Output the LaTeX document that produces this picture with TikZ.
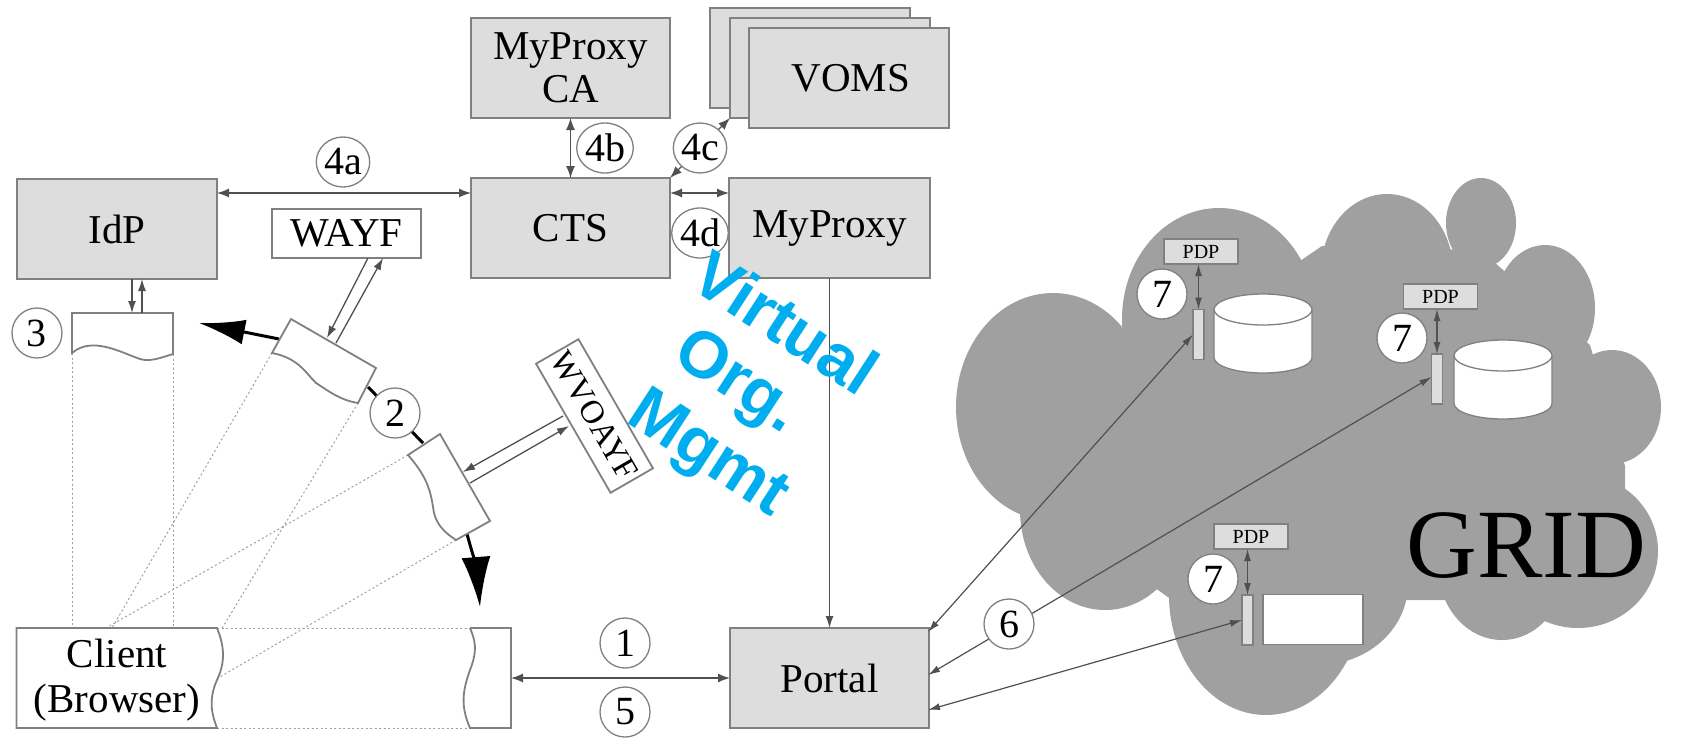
\documentclass[tikz,border=0pt]{standalone}
\usepackage{fontspec}
\setmainfont{Liberation Serif}
\newfontfamily\virtfont{Liberation Sans}
\usetikzlibrary{arrows.meta,shapes.geometric,calc}
\definecolor{boxfill}{HTML}{DDDDDD}
\definecolor{edgecol}{HTML}{808080}
\definecolor{linecol}{HTML}{505050}
\definecolor{gridfill}{HTML}{A0A0A0}
\definecolor{virt}{HTML}{00AEEF}
\tikzset{
  x=1pt,y=-1pt,
  box/.style={draw=edgecol,line width=1.8pt,fill=boxfill,rectangle,inner sep=0pt,outer sep=0pt,align=center,font=\fontsize{41}{46}\selectfont},
  whitebox/.style={box,fill=white},
  num/.style={draw=edgecol,line width=1.3pt,fill=white,ellipse,inner sep=0pt,outer sep=0pt,minimum width=50pt,minimum height=50pt,font=\fontsize{40}{44}\selectfont},
  page/.style={draw=edgecol,line width=1.8pt,fill=white},
  pdpbox/.style={box,minimum width=74pt,minimum height=25pt,font=\fontsize{20}{22}\selectfont},
  barbox/.style={box,minimum width=11pt,minimum height=50pt,line width=1.3pt},
  both/.style={draw=linecol,line width=1.3pt,{Latex[length=12pt,width=9pt]}-{Latex[length=12pt,width=9pt]}},
  toend/.style={draw=linecol,line width=1.3pt,-{Latex[length=12pt,width=8pt]}},
  thin link/.style={draw=linecol,line width=1.2pt,{Latex[length=12pt,width=7pt]}-{Latex[length=12pt,width=7pt]}},
  bigleft/.style={line width=3pt,black,-{Latex[length=46pt,width=25pt]}},
  bigdown/.style={line width=3pt,black,-{Latex[length=50pt,width=29pt]}},
  view/.style={draw=edgecol!75,line width=1pt,dash pattern=on 2pt off 2.5pt},
  cyl/.style={draw=edgecol,line width=1.3pt,fill=white},
  virttext/.style={text=virt,font=\virtfont\bfseries\fontsize{66}{68}\selectfont,rotate=-33,inner sep=0pt}
}
\begin{document}
\begin{tikzpicture}
\useasboundingbox (0,0) rectangle (1681,737);
\fill[white] (0,0) rectangle (1681,737);

% cloud
\begin{scope}[gridfill]
\fill (1053,407) ellipse [x radius=97pt,y radius=114pt];
\fill (1219,319) ellipse [x radius=97pt,y radius=111pt];
\fill (1387,271) ellipse [x radius=66pt,y radius=77pt];
\fill (1481,223) ellipse [x radius=35pt,y radius=45pt];
\fill (1545,308) ellipse [x radius=50pt,y radius=63pt];
\fill (1612,407) ellipse [x radius=49pt,y radius=57pt];
\fill (1578,551) ellipse [x radius=80pt,y radius=77pt];
\fill (1502,566) ellipse [x radius=64pt,y radius=74pt];
\fill (1266,595) ellipse [x radius=97pt,y radius=120pt];
\fill (1105,510) ellipse [x radius=85pt,y radius=100pt];
\fill (1318,584) ellipse [x radius=90pt,y radius=81pt];
\fill (1120,400) -- (1300,261) -- (1322,246) -- (1480,250) -- (1590,345) -- (1625,466) -- (1625,492) -- (1560,600) -- (1400,600) -- (1200,620) -- (1060,520) -- cycle;
\end{scope}

% boxes
\node[box,minimum width=199pt,minimum height=100pt] (ca) at (570.5,68) {\raisebox{-3pt}{MyProxy}\\CA};
\node[box,minimum width=200pt,minimum height=100pt] (voms3) at (810,58) {};
\node[box,minimum width=200pt,minimum height=100pt] (voms2) at (830,68) {};
\node[box,minimum width=200pt,minimum height=100pt] (voms) at (849,78) {\hspace*{4pt}VOMS};
\node[box,minimum width=200pt,minimum height=100pt] (idp) at (117,229) {IdP};
\node[whitebox,minimum width=149pt,minimum height=49pt] (wayf) at (346.5,233.5) {WAYF};
\node[box,minimum width=199pt,minimum height=100pt] (cts) at (570.5,228) {CTS};
\node[box,minimum width=201pt,minimum height=100pt] (myproxy) at (829.5,228) {MyProxy};
\node[box,minimum width=199pt,minimum height=100pt] (portal) at (829.5,678) {Portal};
\node[whitebox,rotate=-60,minimum width=149pt,minimum height=49pt,font=\fontsize{33}{36}\selectfont] (wvoayf) at (594.5,416) {WVOAYF};

% view lines
\coordinate (p3l) at (72,353);
\coordinate (p3r) at (173,354);
\coordinate (p1l) at (272,353);
\coordinate (p1r) at (358,403);
\coordinate (p2l) at (408,455);
\coordinate (p2r) at (456,540);
\coordinate (cl1) at (72,628);
\coordinate (cl2) at (173,628);
\coordinate (cl3) at (112,628);
\coordinate (cl4) at (106,628);
\coordinate (cl5) at (221,630);
\coordinate (cl6) at (218,678);
\coordinate (rt) at (470,628);
\coordinate (rb) at (470,728);
\coordinate (ct) at (217,628);
\coordinate (cb) at (217,728);
\draw[view] (p3l) -- (cl1);
\draw[view] (p3r) -- (cl2);
\draw[view] (p1l) -- (cl3);
\draw[view] (p1r) -- (cl5);
\draw[view] (p2l) -- (cl4);
\draw[view] (p2r) -- (cl6);
\draw[view] (ct) -- (rt);
\draw[view] (cb) -- (rb);

% big flow arrows
\coordinate (flowa) at (279,339);
\coordinate (flowatip) at (199,323);
\coordinate (flowb) at (467,534);
\coordinate (flowbtip) at (480,607);
\coordinate (flowc) at (368,387);
\coordinate (flowd) at (423,443);
\draw[bigleft] (flowa) -- (flowatip);
\draw[line width=3pt,black] (flowc) -- (flowd);
\draw[bigdown] (flowb) .. controls (472,552) and (477,570) .. (flowbtip);

% browser pages
\draw[page] (72,313) -- (173,313) -- (p3r) .. controls (160,358) and (150,362) .. (140,359) .. controls (120,352) and (92,336) .. (p3l) -- cycle;
\draw[page] (291,319) -- (376,368) -- (p1r) .. controls (340,400) and (330,392) .. (316,383) .. controls (305,372) and (298,358) .. (p1l) -- cycle;
\draw[page] (440,434) -- (490,521) -- (p2r) .. controls (445,533) and (437,525) .. (434,513) .. controls (431,495) and (430,480) .. (p2l) -- cycle;
\draw[page] (16.5,628) -- (ct) .. controls (226,650) and (224,665) .. (217,680) .. controls (208,700) and (212,715) .. (cb) -- (16.5,728) -- cycle;
\draw[page] (rt) -- (511,628) -- (511,728) -- (rb) .. controls (460,705) and (463,690) .. (470,670) .. controls (478,650) and (475,640) .. (rt);
\node[font=\fontsize{41}{45}\selectfont,align=center,inner sep=0pt] (client) at (117,680) {Client\\(Browser)};
\coordinate (rightpage) at (511,678);

% connectors
\draw[both] ([yshift=-14pt]idp.north east) -- ([yshift=-15pt]cts.north west);
\draw[both] (ca.south) -- (cts.north);
\draw[both] (cts.north east) -- (voms2.south west);
\draw[both] ([yshift=-15pt]cts.north east) -- ([yshift=-15pt]myproxy.north west);
\draw[toend] (myproxy.south) -- (portal.north);
\draw[both] (rightpage) -- (portal.west);
\coordinate (idpdown) at (132,313);
\coordinate (idpup) at (142,313);
\draw[toend] (idpdown |- idp.south) -- (idpdown);
\draw[toend] (idpup) -- (idpup |- idp.south);
\coordinate (p1a) at (327,338);
\coordinate (p1b) at (336,343);
\coordinate (wa) at (368,258);
\coordinate (wb) at (383,258);
\draw[toend] (wa) -- (p1a);
\draw[toend] (p1b) -- (wb);
\coordinate (p2a) at (463,472);
\coordinate (p2b) at (470,483);
\coordinate (va) at (563,416);
\coordinate (vb) at (569,426);
\draw[toend] (va) -- (p2a);
\draw[toend] (p2b) -- (vb);

% grid contents
\node[pdpbox] (pdpa) at (1201,251.5) {PDP};
\node[barbox] (bara) at (1198.5,334.5) {};
\node[pdpbox] (pdpb) at (1440.5,296.5) {PDP};
\node[barbox] (barb) at (1437,379) {};
\node[pdpbox] (pdpc) at (1251,536.5) {PDP};
\node[barbox] (barc) at (1247.5,620) {};
\draw[thin link] (pdpa.south -| bara) -- (bara.north);
\draw[thin link] (pdpb.south -| barb) -- (barb.north);
\draw[thin link] (pdpc.south -| barc) -- (barc.north);
\draw[cyl] (1214,309.5) -- (1214,357.5) arc [start angle=180,end angle=360,x radius=49pt,y radius=15.5pt] -- (1312,309.5) arc [start angle=0,end angle=180,x radius=49pt,y radius=15.5pt] -- cycle;
\draw[cyl] (1214,309.5) arc [start angle=180,end angle=360,x radius=49pt,y radius=15.5pt];
\draw[cyl] (1454,355.5) -- (1454,403.5) arc [start angle=180,end angle=360,x radius=49pt,y radius=15.5pt] -- (1552,355.5) arc [start angle=0,end angle=180,x radius=49pt,y radius=15.5pt] -- cycle;
\draw[cyl] (1454,355.5) arc [start angle=180,end angle=360,x radius=49pt,y radius=15.5pt];
\node[whitebox,minimum width=100pt,minimum height=50pt,line width=1.3pt] (store) at (1313,619.5) {};
\node[inner sep=0pt,font=\fontsize{98}{100}\selectfont] (gridlabel) at (1526,546) {GRID};

% grid links
\coordinate (po1) at (928,632);
\coordinate (po2) at (928,675);
\coordinate (po3) at (928,710);
\draw[thin link] (po1) -- (bara.west);
\draw[thin link] (po2) -- ([yshift=2pt]barb.west);
\draw[thin link] (po3) -- (barc.west);

% numbered circles
\node[num] (n4a) at (343,162) {4a};
\node[num] (n4b) at (605,148) {4b};
\node[num] (n4c) at (700,148) {4c};
\node[num] (n4d) at (700,233) {4d};
\node[num] (n3) at (37,333) {3};
\node[num] (n2) at (395,413) {2};
\node[num] (n1) at (625,643) {1};
\node[num] (n5) at (625,712) {5};
\node[num] (n6) at (1009,624) {6};
\node[num] (n7a) at (1162,294) {7};
\node[num] (n7b) at (1402,338) {7};
\node[num] (n7c) at (1213,579) {7};

% overlay text
\node[virttext] (virta) at (786,322) {Virtual};
\node[virttext] (virtb) at (736,384) {Org.};
\node[virttext] (virtc) at (707,456) {Mgmt};
\end{tikzpicture}
\end{document}
